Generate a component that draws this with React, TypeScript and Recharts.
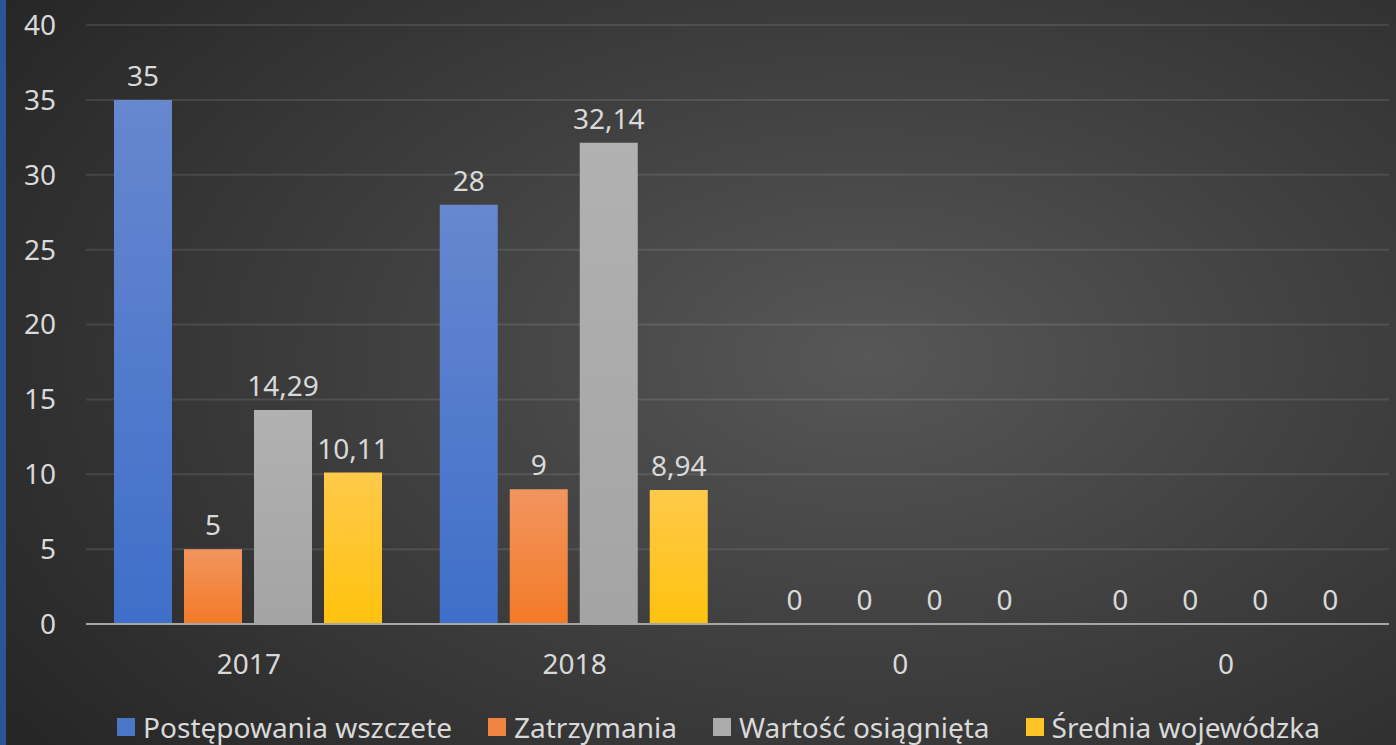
import { BarChart, Bar, XAxis, YAxis, CartesianGrid, Legend, LabelList } from "recharts";

const categories = ["2017", "2018", "0", "0"];
const postepowania = [35, 28, 0, 0];
const zatrzymania = [5, 9, 0, 0];
const wartosc = [14.29, 32.14, 0, 0];
const srednia = [10.11, 8.94, 0, 0];
const yTicks = [0, 5, 10, 15, 20, 25, 30, 35, 40];

const chartData = categories.map((cat, i) => ({
  cat,
  p: postepowania[i],
  z: zatrzymania[i],
  w: wartosc[i],
  s: srednia[i],
}));

const FONT = "'Noto Sans', sans-serif";
const TEXT = "#d9d9d9";
const FS = 28;

const fmt = (v: number) => String(v).replace(".", ",");

const series = [
  { key: "p", name: "Postępowania wszczete", top: "#6787cf", bottom: "#3f6fc9", swatch: "#4a76c8" },
  { key: "z", name: "Zatrzymania", top: "#f1955f", bottom: "#f47a27", swatch: "#f08541" },
  { key: "w", name: "Wartość osiągnięta", top: "#b1b1b1", bottom: "#a4a4a4", swatch: "#ababab" },
  { key: "s", name: "Średnia wojewódzka", top: "#ffc94a", bottom: "#ffc20e", swatch: "#ffc325" },
];

// etykiety wartości – własny renderer, żeby zera też były widoczne
function ValueLabel(props: any) {
  const { x, y, width, value } = props;
  if (value === undefined || value === null) return null;
  return (
    <text
      x={Number(x) + Number(width) / 2}
      y={Number(y) - 14}
      textAnchor="middle"
      fill={TEXT}
      fontSize={FS}
      fontFamily={FONT}
    >
      {fmt(Number(value))}
    </text>
  );
}

function ChartLegend() {
  return (
    <div
      style={{
        display: "flex",
        justifyContent: "center",
        alignItems: "center",
        paddingLeft: 48,
        paddingTop: 11,
        fontSize: FS,
        fontFamily: FONT,
        color: TEXT,
        lineHeight: "34px",
      }}
    >
      {series.map((s, i) => (
        <div key={s.key} style={{ display: "flex", alignItems: "center", marginRight: i < series.length - 1 ? 36 : 0 }}>
          <span style={{ display: "inline-block", width: 18, height: 18, background: s.swatch, marginRight: 8 }} />
          <span>{s.name}</span>
        </div>
      ))}
    </div>
  );
}

export default function App() {
  return (
    <div
      style={{
        position: "absolute",
        left: 0,
        top: 0,
        width: 1396,
        height: 745,
        background: "radial-gradient(ellipse 75% 85% at 62% 48%, #575757 0%, #404040 45%, #262626 100%)",
        fontFamily: FONT,
        overflow: "hidden",
      }}
    >
      <div style={{ position: "absolute", left: 0, top: 0, width: 6, height: 745, background: "#2a5699" }} />
      <BarChart
        width={1396}
        height={745}
        data={chartData}
        margin={{ top: 25, right: 7, left: 0, bottom: 0 }}
        barCategoryGap={28}
        barGap={12}
      >
        <defs>
          {series.map((s) => (
            <linearGradient key={s.key} id={`grad-${s.key}`} x1="0" y1="0" x2="0" y2="1">
              <stop offset="0%" stopColor={s.top} />
              <stop offset="100%" stopColor={s.bottom} />
            </linearGradient>
          ))}
        </defs>
        <CartesianGrid vertical={false} stroke="#ffffff" strokeOpacity={0.1} strokeWidth={2} />
        <XAxis
          dataKey="cat"
          height={75}
          tickLine={false}
          axisLine={{ stroke: "#a6a6a6", strokeWidth: 2 }}
          tickMargin={24}
          tick={{ fill: TEXT, fontSize: FS, fontFamily: FONT }}
        />
        <YAxis
          width={86}
          domain={[0, 40]}
          ticks={yTicks}
          axisLine={false}
          tickLine={false}
          tickSize={0}
          tickMargin={30}
          tick={{ fill: TEXT, fontSize: FS, fontFamily: FONT }}
        />
        <Legend verticalAlign="bottom" height={46} content={() => <ChartLegend />} />
        {series.map((s) => (
          <Bar
            key={s.key}
            dataKey={s.key}
            name={s.name}
            fill={`url(#grad-${s.key})`}
            minPointSize={0.01}
            isAnimationActive={false}
          >
            <LabelList dataKey={s.key} content={<ValueLabel />} />
          </Bar>
        ))}
      </BarChart>
    </div>
  );
}
